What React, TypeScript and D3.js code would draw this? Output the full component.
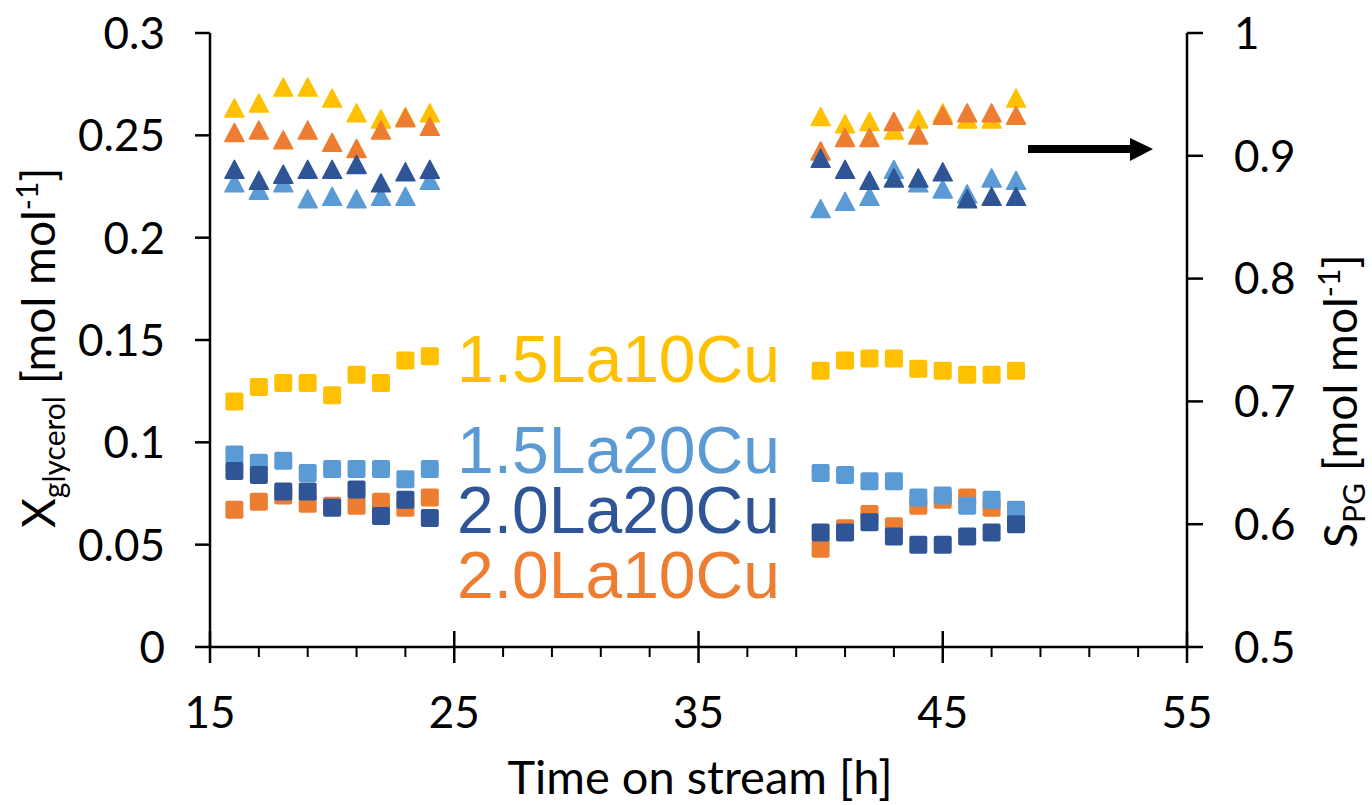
import * as d3 from "d3";

// time on stream [h]
const hours = [16, 17, 18, 19, 20, 21, 22, 23, 24, 40, 41, 42, 43, 44, 45, 46, 47, 48];

// glycerol conversion (squares, left axis)
const conv15La10Cu = [0.120, 0.127, 0.129, 0.129, 0.123, 0.133, 0.129, 0.140, 0.142, 0.135, 0.140, 0.141, 0.141, 0.136, 0.135, 0.133, 0.133, 0.135];
const conv20La10Cu = [0.067, 0.071, 0.074, 0.070, 0.069, 0.069, 0.071, 0.068, 0.073, 0.048, 0.058, 0.065, 0.059, 0.069, 0.072, 0.073, 0.068, 0.063];
const conv15La20Cu = [0.094, 0.090, 0.091, 0.085, 0.087, 0.087, 0.087, 0.082, 0.087, 0.085, 0.084, 0.081, 0.081, 0.073, 0.074, 0.069, 0.072, 0.067];
const conv20La20Cu = [0.086, 0.084, 0.076, 0.076, 0.068, 0.077, 0.064, 0.072, 0.063, 0.056, 0.056, 0.061, 0.054, 0.050, 0.050, 0.054, 0.056, 0.060];

// PG selectivity (triangles, right axis)
const sel15La10Cu = [0.939, 0.943, 0.956, 0.956, 0.947, 0.935, 0.930, 0.932, 0.935, 0.932, 0.926, 0.928, 0.921, 0.930, 0.935, 0.930, 0.930, 0.947];
const sel20La10Cu = [0.919, 0.921, 0.913, 0.921, 0.911, 0.906, 0.921, 0.931, 0.924, 0.904, 0.915, 0.915, 0.928, 0.917, 0.933, 0.935, 0.935, 0.933];
const sel15La20Cu = [0.878, 0.872, 0.878, 0.865, 0.867, 0.865, 0.867, 0.867, 0.880, 0.857, 0.863, 0.867, 0.889, 0.878, 0.873, 0.869, 0.882, 0.880];
const sel20La20Cu = [0.889, 0.880, 0.885, 0.889, 0.889, 0.893, 0.878, 0.887, 0.889, 0.898, 0.889, 0.880, 0.882, 0.882, 0.887, 0.865, 0.867, 0.867];

const xTicks = [15, 25, 35, 45, 55];
const xMinor = [17, 19, 21, 23, 27, 29, 31, 33, 37, 39, 41, 43, 47, 49, 51, 53];
const leftTicks = [0, 0.05, 0.1, 0.15, 0.2, 0.25, 0.3];
const rightTicks = [0.5, 0.6, 0.7, 0.8, 0.9, 1];

// drawing order matters: yellow, orange, light blue, dark blue on top
const series = [
  { name: "1.5La10Cu", color: "#FFC000", conv: conv15La10Cu, sel: sel15La10Cu, labelY: 382 },
  { name: "2.0La10Cu", color: "#ED7D31", conv: conv20La10Cu, sel: sel20La10Cu, labelY: 598 },
  { name: "1.5La20Cu", color: "#5B9BD5", conv: conv15La20Cu, sel: sel15La20Cu, labelY: 473 },
  { name: "2.0La20Cu", color: "#2F5597", conv: conv20La20Cu, sel: sel20La20Cu, labelY: 533 },
];

const W = 1372;
const H = 805;
const font = "Lato, 'Noto Sans', sans-serif";

export default function App() {
  const x = d3.scaleLinear().domain([15, 55]).range([210, 1187]);
  const yL = d3.scaleLinear().domain([0, 0.3]).range([647, 33]);
  const yR = d3.scaleLinear().domain([0.5, 1]).range([647, 33]);
  const fmt = (v: number) => String(+v.toFixed(2));
  const sq = 18;
  const tri = (cx: number, cy: number) =>
    `M${cx},${cy - 9}L${cx + 9.5},${cy + 9}L${cx - 9.5},${cy + 9}Z`;

  return (
    <svg width={W} height={H} style={{ position: "absolute", left: 0, top: 0, background: "#fff" }} fontFamily={font}>
      {/* axes */}
      <g stroke="#000" strokeWidth={2.5}>
        <line x1={210} x2={210} y1={yL(0.3)} y2={yL(0)} />
        <line x1={1187} x2={1187} y1={yR(1)} y2={yR(0.5)} />
        <line x1={210} x2={1187} y1={647} y2={647} />
        {leftTicks.map((t) => (
          <line key={"l" + t} x1={195} x2={210} y1={yL(t)} y2={yL(t)} />
        ))}
        {rightTicks.map((t) => (
          <line key={"r" + t} x1={1187} x2={1203} y1={yR(t)} y2={yR(t)} />
        ))}
        {xTicks.map((t) => (
          <line key={"x" + t} x1={x(t)} x2={x(t)} y1={631} y2={663} />
        ))}
        {xMinor.map((t) => (
          <line key={"m" + t} x1={x(t)} x2={x(t)} y1={647} y2={657} strokeWidth={2} />
        ))}
      </g>

      {/* tick labels */}
      <g fontSize={44} fill="#000">
        {leftTicks.map((t) => (
          <text key={"lt" + t} x={165} y={yL(t)} dy="0.36em" textAnchor="end">{fmt(t)}</text>
        ))}
        {rightTicks.map((t) => (
          <text key={"rt" + t} x={1234} y={yR(t)} dy="0.36em">{fmt(t)}</text>
        ))}
        {xTicks.map((t) => (
          <text key={"xt" + t} x={x(t)} y={728} textAnchor="middle">{t}</text>
        ))}
      </g>

      {/* axis titles */}
      <text x={700} y={794} fontSize={47} textAnchor="middle">Time on stream [h]</text>
      <text transform="translate(55,528) rotate(-90)" fontSize={46}>
        <tspan>X</tspan>
        <tspan fontSize={30} dy={10}>glycerol</tspan>
        <tspan dy={-10}>{"   [mol mol"}</tspan>
        <tspan fontSize={30} dy={-17}>-1</tspan>
        <tspan dy={17}>]</tspan>
      </text>
      <text transform="translate(1357,548) rotate(-90)" fontSize={46}>
        <tspan>S</tspan>
        <tspan fontSize={30} dy={8}>PG</tspan>
        <tspan dy={-8}>{" [mol mol"}</tspan>
        <tspan fontSize={30} dy={-17}>-1</tspan>
        <tspan dy={17}>]</tspan>
      </text>

      {/* markers */}
      {series.map((s) => (
        <g key={s.name} fill={s.color}>
          {s.sel.map((v, i) => (
            <path key={"t" + i} d={tri(x(hours[i]), yR(v))} stroke={s.color} strokeWidth={1.5} strokeLinejoin="round" />
          ))}
          {s.conv.map((v, i) => (
            <rect key={"s" + i} x={x(hours[i]) - sq / 2} y={yL(v) - sq / 2} width={sq} height={sq} rx={2} />
          ))}
        </g>
      ))}

      {/* series labels */}
      {series.map((s) => (
        <text key={"lab" + s.name} x={457} y={s.labelY} fontSize={66} fill={s.color} fontFamily="'Liberation Sans', Arial, sans-serif">
          {s.name}
        </text>
      ))}

      {/* arrow pointing to the right axis */}
      <line x1={1028} x2={1134} y1={149} y2={149} stroke="#000" strokeWidth={8} />
      <path d="M1130,138L1153,149L1130,161Z" fill="#000" />
    </svg>
  );
}
